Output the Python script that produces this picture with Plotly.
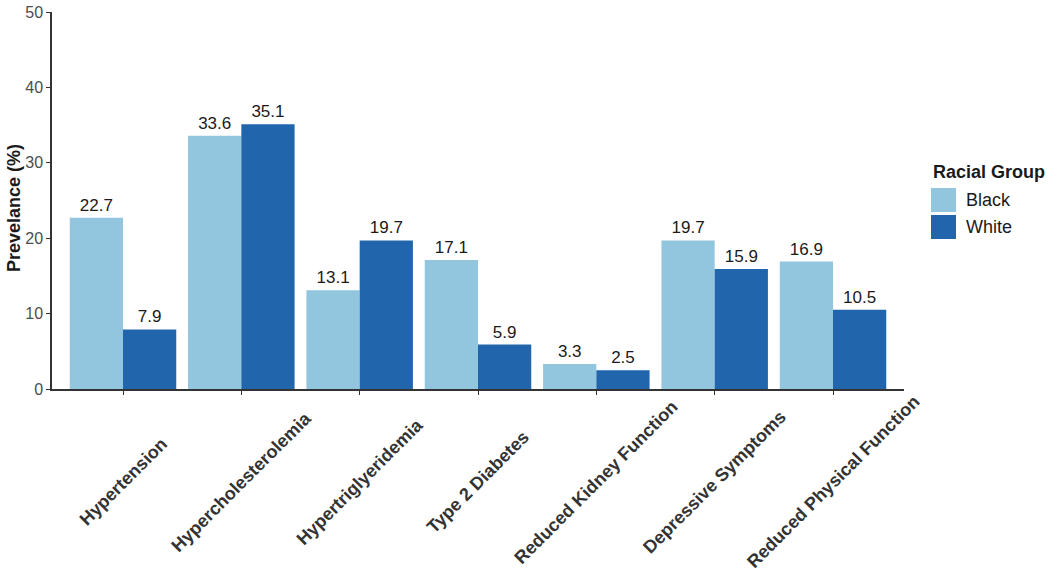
import plotly.graph_objects as go

categories = ["Hypertension", "Hypercholesterolemia", "Hypertriglyeridemia", "Type 2 Diabetes",
              "Reduced Kidney Function", "Depressive Symptoms", "Reduced Physical Function"]
groups = ["Black", "White"]
black_vals = [22.7, 33.6, 13.1, 17.1, 3.3, 19.7, 16.9]
white_vals = [7.9, 35.1, 19.7, 5.9, 2.5, 15.9, 10.5]
y_ticks = [0, 10, 20, 30, 40, 50]

FONT = "Liberation Sans, Arial, sans-serif"
COLORS = ["#92c5de", "#2166ac"]
x_idx = list(range(len(categories)))

W, H = 1050, 577
ML, MR, MT, MB = 52, 146, 12, 188
PW, PH = W - ML - MR, H - MT - MB


def px_to_paper_x(px):
    return (px - ML) / PW


def px_to_paper_y(py):
    return (H - MB - py) / PH


fig = go.Figure()
for name, vals, col in zip(groups, [black_vals, white_vals], COLORS):
    fig.add_trace(go.Bar(name=name, x=x_idx, y=vals, marker_color=col,
                         marker_line_width=0, text=[f"{v:.1f}" for v in vals],
                         textposition="outside", cliponaxis=False, constraintext="none",
                         textfont=dict(size=17, color="#1a1a1a", family=FONT),
                         showlegend=False))

# rotated category labels
for i, c in zip(x_idx, categories):
    fig.add_annotation(x=i, xref="x", y=0, yref="paper", yshift=-93,
                       text=f"<b>{c}</b>", textangle=-45, showarrow=False,
                       xanchor="center", yanchor="middle",
                       font=dict(size=18, color="#333333", family=FONT))

# y axis title
fig.add_annotation(x=px_to_paper_x(14), y=px_to_paper_y(208), xref="paper", yref="paper",
                   text="<b>Prevelance (%)</b>", textangle=-90, showarrow=False,
                   xanchor="center", yanchor="middle",
                   font=dict(size=18, color="#1a1a1a", family=FONT))

# legend (drawn manually for large swatches)
fig.add_annotation(x=px_to_paper_x(931), y=px_to_paper_y(172), xref="paper", yref="paper",
                   text="<b>Racial Group</b>", showarrow=False, xanchor="left", yanchor="middle",
                   font=dict(size=18, color="#1a1a1a", family=FONT))
sw_tops = [188, 215]
for name, col, top in zip(groups, COLORS, sw_tops):
    fig.add_shape(type="rect", xref="paper", yref="paper",
                  x0=px_to_paper_x(931), x1=px_to_paper_x(956),
                  y0=px_to_paper_y(top + 24), y1=px_to_paper_y(top),
                  fillcolor=col, line_width=0)
    fig.add_annotation(x=px_to_paper_x(964), y=px_to_paper_y(top + 12), xref="paper", yref="paper",
                       text=name, showarrow=False, xanchor="left", yanchor="middle",
                       font=dict(size=18, color="#1a1a1a", family=FONT))

fig.update_layout(
    width=W, height=H,
    margin=dict(l=ML, r=MR, t=MT, b=MB),
    paper_bgcolor="white", plot_bgcolor="white",
    barmode="group", bargap=0.1, bargroupgap=0,
    font=dict(family=FONT, color="#1a1a1a"),
    showlegend=False,
    xaxis=dict(tickmode="array", tickvals=x_idx, showticklabels=False,
               range=[-0.6, len(categories) - 0.4], automargin=False,
               showline=True, linecolor="#333333", linewidth=1.5,
               ticks="outside", ticklen=4, tickcolor="#333333",
               showgrid=False, zeroline=False),
    yaxis=dict(range=[0, 50], tickvals=y_ticks, automargin=False,
               ticklabeloverflow="allow",
               tickfont=dict(size=16, color="#4d4d4d"),
               showline=True, linecolor="#333333", linewidth=1.5,
               ticks="outside", ticklen=4, tickcolor="#333333",
               showgrid=False, zeroline=False),
)

fig.write_html("out.html", config={"displayModeBar": False},
               post_script="document.body.style.margin='0';")
